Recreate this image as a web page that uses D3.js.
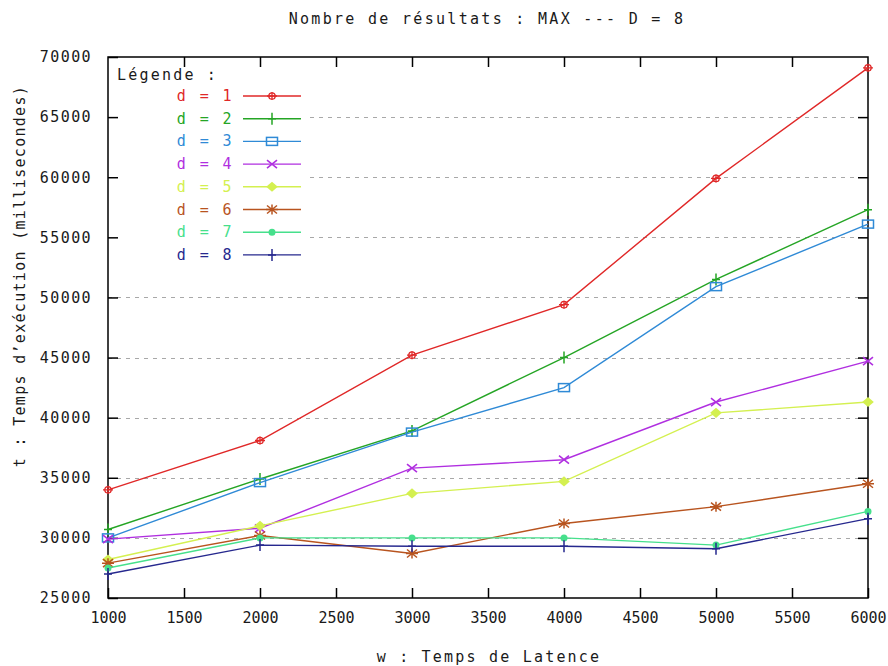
<!DOCTYPE html>
<html>
<head>
<meta charset="utf-8">
<script src="https://cdn.jsdelivr.net/npm/d3@7"></script>
<style>
  body { margin: 0; background: #fff; }
  svg text { font-family: "DejaVu Sans Mono", monospace; font-size: 15px; fill: #1a1a1a; }
</style>
</head>
<body>
<div id="chart"></div>
<script>
(function () {
  'use strict';

  /* -----------------------------------------------------------
     Data
  ----------------------------------------------------------- */
  var latences = [1000, 2000, 3000, 4000, 5000, 6000];
  var d1 = [34000, 38100, 45200, 49400, 59900, 69100];
  var d2 = [30700, 34900, 38900, 45000, 51500, 57300];
  var d3v = [30000, 34600, 38800, 42500, 50900, 56100];
  var d4 = [29900, 30800, 35800, 36500, 41300, 44700];
  var d5 = [28200, 31000, 33700, 34700, 40400, 41300];
  var d6 = [27900, 30200, 28700, 31200, 32600, 34500];
  var d7 = [27500, 30000, 30000, 30000, 29400, 32200];
  var d8 = [27000, 29400, 29300, 29300, 29100, 31600];

  var legendLabels = ['d = 1', 'd = 2', 'd = 3', 'd = 4', 'd = 5', 'd = 6', 'd = 7', 'd = 8'];
  var colors = ['#e02828', '#25a525', '#2f8ad6', '#b02fe0', '#d4f050', '#b8541f', '#46e08c', '#26288e'];
  var markers = ['circplus', 'plus', 'box', 'cross', 'tri', 'star', 'dot', 'vplus'];
  var series = [d1, d2, d3v, d4, d5, d6, d7, d8];

  var xTicks = [1000, 1500, 2000, 2500, 3000, 3500, 4000, 4500, 5000, 5500, 6000];
  var yTicks = [25000, 30000, 35000, 40000, 45000, 50000, 55000, 60000, 65000, 70000];

  var W = 888, H = 666;
  var m = { left: 108, right: 20, top: 57, bottom: 68 };
  var iw = W - m.left - m.right, ih = H - m.top - m.bottom;

  var x = d3.scaleLinear().domain([1000, 6000]).range([0, iw]);
  var y = d3.scaleLinear().domain([25000, 70000]).range([ih, 0]);

  var svg = d3.select('#chart').append('svg')
    .attr('width', W).attr('height', H);

  /* titles */
  svg.append('text')
    .attr('x', 487).attr('y', 24)
    .attr('text-anchor', 'middle')
    .style('letter-spacing', '2.3px')
    .text('Nombre de résultats : MAX --- D = 8');

  svg.append('text')
    .attr('x', 489).attr('y', 662)
    .attr('text-anchor', 'middle')
    .style('letter-spacing', '2.2px')
    .text('w : Temps de Latence');

  svg.append('text')
    .attr('transform', 'translate(25,276) rotate(-90)')
    .attr('text-anchor', 'middle')
    .style('letter-spacing', '1.3px')
    .text('t : Temps d\u2019exécution (millisecondes)');

  var g = svg.append('g').attr('transform', 'translate(' + m.left + ',' + m.top + ')');

  /* legend area (grid is hidden behind it) */
  var legW = 202, legH = 208;

  /* grid */
  g.append('g').selectAll('line')
    .data(yTicks.slice(1, -1))
    .join('line')
    .attr('x1', function (d) { return y(d) < legH ? legW : 0; })
    .attr('x2', iw)
    .attr('y1', function (d) { return Math.round(y(d)) + 0.5; })
    .attr('y2', function (d) { return Math.round(y(d)) + 0.5; })
    .attr('stroke', '#a8a8a8')
    .attr('stroke-width', 1)
    .attr('stroke-dasharray', '4,5');

  /* axes */
  var axL = g.append('g')
    .call(d3.axisLeft(y).tickValues(yTicks).tickFormat(d3.format('d')).tickSizeInner(-10).tickSizeOuter(0).tickPadding(16));
  axL.selectAll('text').style('letter-spacing', '1.4px');

  var axB = g.append('g').attr('transform', 'translate(0,' + ih + ')')
    .call(d3.axisBottom(x).tickValues(xTicks).tickFormat(d3.format('d')).tickSizeInner(-10).tickSizeOuter(0).tickPadding(14));
  axB.selectAll('text').style('letter-spacing', '0px');

  g.append('g').attr('transform', 'translate(' + iw + ',0)')
    .call(d3.axisRight(y).tickValues(yTicks.slice(1, -1)).tickSizeInner(-10).tickSizeOuter(0).tickFormat(''));
  g.append('g')
    .call(d3.axisTop(x).tickValues(xTicks.slice(1, -1)).tickSizeInner(-10).tickSizeOuter(0).tickFormat(''));

  g.selectAll('.domain').remove();
  g.selectAll('.tick line').attr('stroke', '#000').attr('stroke-width', 1.5);
  g.selectAll('.tick text').style('font-family', '"DejaVu Sans Mono", monospace').style('font-size', '15px').attr('fill', '#1a1a1a');

  g.append('rect')
    .attr('width', iw).attr('height', ih)
    .attr('fill', 'none').attr('stroke', '#000').attr('stroke-width', 1.5);

  /* markers */
  function drawMarker(sel, type, color) {
    if (type === 'circplus') {
      sel.append('circle').attr('r', 3.2).attr('fill', 'none').attr('stroke', color).attr('stroke-width', 1.3);
      sel.append('path').attr('d', 'M-5,0H5M0,-4V4').attr('stroke', color).attr('stroke-width', 1.3);
    } else if (type === 'plus' || type === 'vplus') {
      sel.append('path').attr('d', 'M-4,0H4M0,-6V6').attr('stroke', color).attr('stroke-width', 1.5);
    } else if (type === 'box') {
      sel.append('rect').attr('x', -5.5).attr('y', -4).attr('width', 11).attr('height', 8)
        .attr('fill', 'none').attr('stroke', color).attr('stroke-width', 1.5);
    } else if (type === 'cross') {
      sel.append('path').attr('d', 'M-5,-4L5,4M-5,4L5,-4').attr('stroke', color).attr('stroke-width', 1.6);
    } else if (type === 'tri') {
      sel.append('path').attr('d', d3.symbol(d3.symbolDiamond, 60)()).attr('transform', 'scale(1.4,0.7)').attr('fill', color);
    } else if (type === 'star') {
      sel.append('path').attr('d', 'M-6,0H6M0,-5V5M-5,-4L5,4M-5,4L5,-4').attr('stroke', color).attr('stroke-width', 1.5);
    } else if (type === 'dot') {
      sel.append('circle').attr('r', 3.5).attr('fill', color);
    }
  }

  var line = d3.line()
    .x(function (d, i) { return x(latences[i]); })
    .y(function (d) { return y(d); });

  series.forEach(function (vals, k) {
    g.append('path')
      .datum(vals)
      .attr('fill', 'none')
      .attr('stroke', colors[k])
      .attr('stroke-width', 1.4)
      .attr('d', line);
    vals.forEach(function (v, i) {
      var mk = g.append('g').attr('transform', 'translate(' + x(latences[i]) + ',' + y(v) + ')');
      drawMarker(mk, markers[k], colors[k]);
    });
  });

  /* legend */
  var leg = g.append('g');
  leg.append('text')
    .attr('x', 9).attr('y', 23)
    .style('letter-spacing', '2.2px')
    .text('Légende :');

  legendLabels.forEach(function (lab, k) {
    var cy = 39 + k * 22.7;
    leg.append('text')
      .attr('x', 126).attr('y', cy + 5)
      .attr('text-anchor', 'end')
      .style('fill', colors[k])
      .style('letter-spacing', '2.4px')
      .text(lab);
    leg.append('line')
      .attr('x1', 135).attr('x2', 193)
      .attr('y1', cy).attr('y2', cy)
      .attr('stroke', colors[k]).attr('stroke-width', 1.4);
    drawMarker(leg.append('g').attr('transform', 'translate(164,' + cy + ')'), markers[k], colors[k]);
  });
})();
</script>
</body>
</html>
